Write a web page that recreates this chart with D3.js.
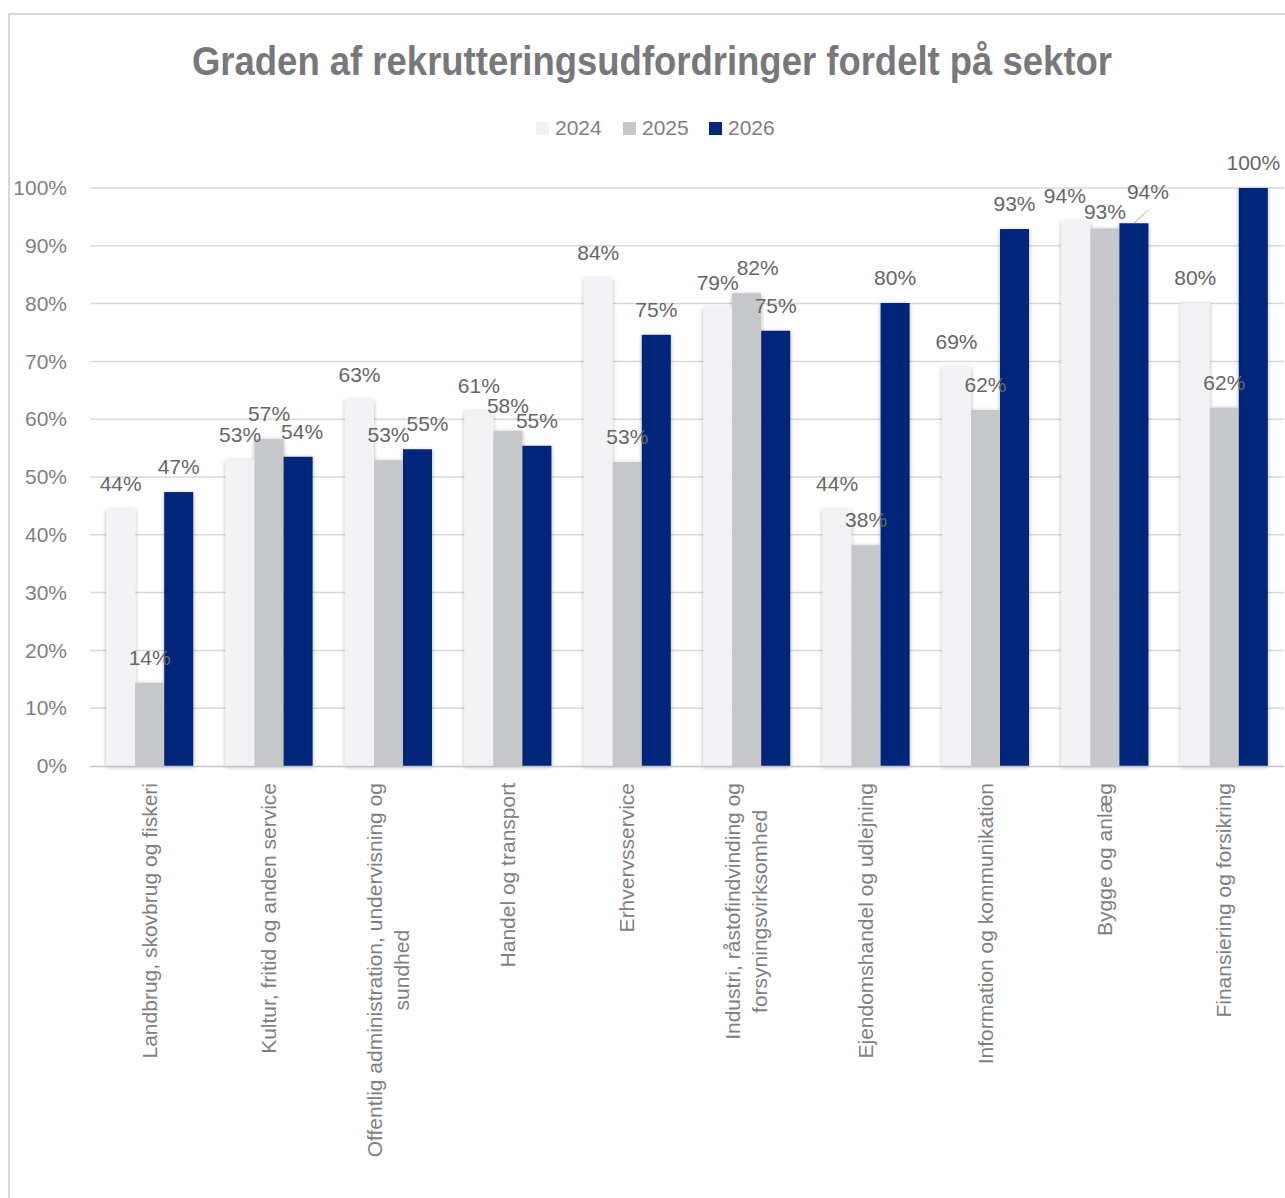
<!doctype html>
<html>
<head>
<meta charset="utf-8">
<style>
    body { margin: 0; background: #fff; }
    text { font-family: "Liberation Sans", Arial, sans-serif; }
</style>
<script src="https://d3js.org/d3.v7.min.js"></script>
</head>
<body>
<svg width="1285" height="1198"></svg>
<script>
    var categories = [
        "Landbrug, skovbrug og fiskeri",
        "Kultur, fritid og anden service",
        "Offentlig administration, undervisning og sundhed",
        "Handel og transport",
        "Erhvervsservice",
        "Industri, råstofindvinding og forsyningsvirksomhed",
        "Ejendomshandel og udlejning",
        "Information og kommunikation",
        "Bygge og anlæg",
        "Finansiering og forsikring"
    ];
    var years = ["2024", "2025", "2026"];
    var v2024 = [44.4, 52.9, 63.4, 61.4, 84.4, 79.3, 44.4, 69.1, 94.3, 80.1];
    var v2025 = [14.4, 56.6, 52.9, 58.0, 52.6, 81.8, 38.2, 61.6, 93.0, 62.0];
    var v2026 = [47.4, 53.5, 54.8, 55.4, 74.6, 75.3, 80.1, 92.9, 93.9, 100];
    var yTicks = [0, 10, 20, 30, 40, 50, 60, 70, 80, 90, 100];

    var series = [v2024, v2025, v2026];
    var colors = ["#f2f2f4", "#c6c7c9", "#00287a"];

    // labels Excel moved to avoid overlaps: "category|series" -> [dx, dy]
    var labelNudge = {
        "1|2": [4, 0],
        "2|2": [10, 0],
        "5|1": [11, 0],
        "8|0": [-11, 0],
        "8|1": [0, 9],
        "8|2": [14, -6]
    };

    var svg = d3.select("svg");

    svg.append("rect")
        .attr("x", 9).attr("y", 14)
        .attr("width", 1300).attr("height", 1200)
        .attr("fill", "none")
        .attr("stroke", "#d9d9d9")
        .attr("stroke-width", 2);

    var defs = svg.append("defs");
    defs.append("filter")
        .attr("id", "shadow")
        .attr("x", "-20%").attr("y", "-5%")
        .attr("width", "140%").attr("height", "110%")
        .append("feDropShadow")
        .attr("dx", 0).attr("dy", 1)
        .attr("stdDeviation", 2)
        .attr("flood-color", "#000")
        .attr("flood-opacity", 0.3);

    var title = svg.append("text")
        .attr("x", 652)
        .attr("y", 75)
        .attr("text-anchor", "middle")
        .attr("font-size", "41px")
        .attr("font-weight", "bold")
        .style("font-family", '"Liberation Sans Narrow", "Liberation Sans", Arial, sans-serif')
        .attr("fill", "#77787b")
        .text("Graden af rekrutteringsudfordringer fordelt på sektor");
    title.attr("textLength", 920).attr("lengthAdjust", "spacingAndGlyphs");

    // legend
    var legendX = [536, 623, 709];
    var legend = svg.append("g");
    years.forEach(function(yr, i) {
        legend.append("rect")
            .attr("x", legendX[i]).attr("y", 122)
            .attr("width", 13).attr("height", 13)
            .attr("fill", colors[i]);
        legend.append("text")
            .attr("x", legendX[i] + 19)
            .attr("y", 135)
            .attr("font-size", "21px")
            .attr("fill", "#7f7f7f")
            .text(yr);
    });

    var plotLeft = 90, plotRight = 1284, plotTop = 188, plotBottom = 766;

    var x = d3.scaleBand()
        .domain(categories)
        .range([plotLeft, plotRight])
        .paddingInner(0.271)
        .paddingOuter(0.1355);
    var x1 = d3.scaleBand()
        .domain(d3.range(years.length))
        .range([0, x.bandwidth()]);
    var y = d3.scaleLinear().domain([0, 100]).range([plotBottom, plotTop]);

    // gridlines
    svg.append("g")
        .selectAll("line")
        .data(yTicks.filter(function(t) { return t > 0; }))
        .enter().append("line")
        .attr("x1", plotLeft).attr("x2", plotRight)
        .attr("y1", function(d) { return y(d); })
        .attr("y2", function(d) { return y(d); })
        .attr("stroke", "#d9d9d9")
        .attr("stroke-width", 1.5);

    // y axis labels
    var yAxis = svg.append("g")
        .attr("transform", "translate(" + plotLeft + ",0)")
        .call(d3.axisLeft(y).tickValues(yTicks).tickSize(0).tickPadding(23)
            .tickFormat(function(d) { return d + "%"; }));
    yAxis.select(".domain").remove();
    yAxis.selectAll("text")
        .attr("font-size", "21px")
        .attr("fill", "#7f7f7f")
        .style("font-family", '"Liberation Sans", Arial, sans-serif');

    // bars
    var groups = svg.append("g")
        .selectAll("g")
        .data(categories)
        .enter().append("g")
        .attr("transform", function(d) { return "translate(" + x(d) + ",0)"; })
        .attr("filter", "url(#shadow)");

    groups.selectAll("rect")
        .data(function(d, ci) {
            return series.map(function(s, si) { return { ci: ci, si: si, v: s[ci] }; });
        })
        .enter().append("rect")
        .attr("x", function(d) { return x1(d.si); })
        .attr("y", function(d) { return y(d.v); })
        .attr("width", x1.bandwidth())
        .attr("height", function(d) { return plotBottom - y(d.v); })
        .attr("fill", function(d) { return colors[d.si]; });

    // axis line
    svg.append("line")
        .attr("x1", plotLeft).attr("x2", plotRight)
        .attr("y1", plotBottom + 0.5).attr("y2", plotBottom + 0.5)
        .attr("stroke", "#c4c4c4")
        .attr("stroke-width", 1.5);

    // data labels
    var labels = svg.append("g");
    categories.forEach(function(cat, ci) {
        series.forEach(function(s, si) {
            var bx = x(cat) + x1(si) + x1.bandwidth() / 2;
            var by = y(s[ci]);
            var n = labelNudge[ci + "|" + si] || [0, 0];
            labels.append("text")
                .attr("x", bx + n[0])
                .attr("y", by - 18 + n[1])
                .attr("text-anchor", "middle")
                .attr("font-size", "21px")
                .attr("fill", "#666")
                .text(Math.round(s[ci]) + "%");
            if (Math.abs(n[0]) > 12) {
                labels.append("line")
                    .attr("x1", bx).attr("y1", by)
                    .attr("x2", bx + n[0]).attr("y2", by - 13)
                    .attr("stroke", "#a6a6a6")
                    .attr("stroke-width", 1);
            }
        });
    });

    // category labels, rotated, wrapped
    var catG = svg.append("g");
    var maxLine = 400, lineH = 27;
    categories.forEach(function(cat) {
        var cx = x(cat) + x.bandwidth() / 2;
        var t = catG.append("text")
            .attr("transform", "translate(" + cx + "," + 783 + ") rotate(-90)")
            .attr("font-size", "21px")
            .attr("fill", "#7f7f7f")
            .attr("text-anchor", "middle");
        var words = cat.split(" "), lines = [], cur = "";
        var probe = t.append("tspan");
        words.forEach(function(w) {
            var test = cur ? cur + " " + w : w;
            probe.text(test);
            if (probe.node().getComputedTextLength() > maxLine && cur) {
                lines.push(cur);
                cur = w;
            } else {
                cur = test;
            }
        });
        lines.push(cur);
        var widths = lines.map(function(l) {
            probe.text(l);
            return probe.node().getComputedTextLength();
        });
        probe.remove();
        var maxW = d3.max(widths);
        lines.forEach(function(l, i) {
            t.append("tspan")
                .attr("x", -maxW / 2)
                .attr("y", (i - (lines.length - 1) / 2) * lineH + 7)
                .text(l);
        });
    });
</script>
</body>
</html>
